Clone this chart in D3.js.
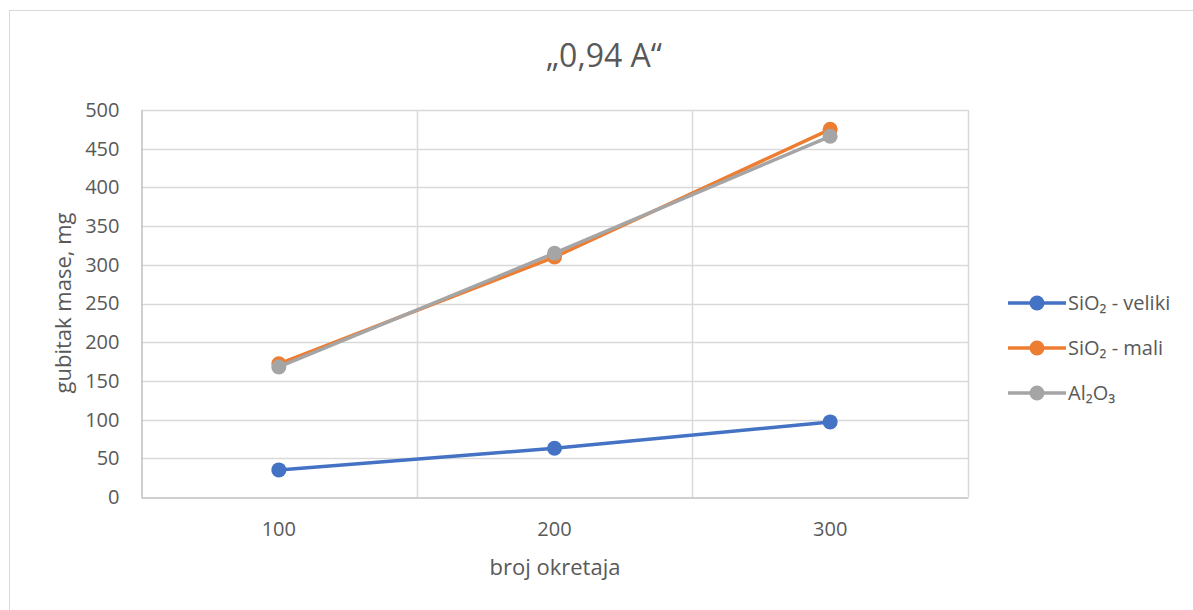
<!doctype html>
<html>
<head>
    <meta charset="utf-8">
    <script src="https://d3js.org/d3.v7.min.js"></script>
    <style>
        body { margin: 0; background: #fff; }
        text { font-family: "Open Sans", "Noto Sans", sans-serif; fill: #595959; }
    </style>
</head>
<body>
    <script>
        var width = 1193;
        var height = 610;

        var categories = ["100", "200", "300"];
        var yTicks = [0, 50, 100, 150, 200, 250, 300, 350, 400, 450, 500];
        var seriesNames = ["SiO\u2082 - veliki", "SiO\u2082 - mali", "Al\u2082O\u2083"];
        var seriesColors = ["#4472c4", "#ed7d31", "#a5a5a5"];
        var sio2Veliki = [35, 63, 97];
        var sio2Mali = [172, 310, 475];
        var al2o3 = [168, 315, 466];

        var series = [
            {name: seriesNames[0], color: seriesColors[0], values: sio2Veliki},
            {name: seriesNames[1], color: seriesColors[1], values: sio2Mali},
            {name: seriesNames[2], color: seriesColors[2], values: al2o3}
        ];

        var plot = {left: 141, right: 968, top: 110, bottom: 497};
        var font = "'Open Sans', sans-serif";

        var svg = d3.select("body")
                    .append("svg")
                    .attr("width", width)
                    .attr("height", height);

        // outer chart border
        svg.append("rect")
           .attr("x", 9.5).attr("y", 10.5)
           .attr("width", 1300).attr("height", 700)
           .attr("fill", "none")
           .attr("stroke", "#d9d9d9");

        var xScale = d3.scaleBand()
                       .domain(categories)
                       .range([plot.left, plot.right]);
        var yScale = d3.scaleLinear()
                       .domain([0, 500])
                       .range([plot.bottom, plot.top]);

        // horizontal gridlines
        svg.append("g").selectAll("line")
           .data(yTicks.slice(1))
           .enter().append("line")
           .attr("x1", plot.left).attr("x2", plot.right)
           .attr("y1", function(d){ return Math.round(yScale(d)) + 0.5; })
           .attr("y2", function(d){ return Math.round(yScale(d)) + 0.5; })
           .attr("stroke", "#d9d9d9").attr("stroke-width", 1.5);

        // vertical gridlines at category boundaries
        svg.append("g").selectAll("line")
           .data(categories.slice(1).concat(["end"]))
           .enter().append("line")
           .attr("x1", function(d, i){ return Math.round(plot.left + xScale.step() * (i + 1)) + 0.5; })
           .attr("x2", function(d, i){ return Math.round(plot.left + xScale.step() * (i + 1)) + 0.5; })
           .attr("y1", plot.top).attr("y2", plot.bottom)
           .attr("stroke", "#d9d9d9").attr("stroke-width", 1.5);

        // y axis
        var yAxis = d3.axisLeft(yScale).tickValues(yTicks).tickSize(0).tickPadding(22);
        var gy = svg.append("g")
                    .attr("transform", "translate(" + (plot.left + 0.5) + ",0)")
                    .call(yAxis);
        gy.select(".domain").attr("stroke", "#bfbfbf").attr("stroke-width", 1.5);
        gy.selectAll("text").style("font-size", "20px").attr("fill", "#595959")
          .style("font-family", font);

        // x axis
        var xAxis = d3.axisBottom(xScale).tickSize(0).tickPadding(24);
        var gx = svg.append("g")
                    .attr("transform", "translate(0," + (plot.bottom + 0.5) + ")")
                    .call(xAxis);
        gx.select(".domain").attr("stroke", "#bfbfbf").attr("stroke-width", 1.5);
        gx.selectAll("text").style("font-size", "20px").attr("fill", "#595959")
          .style("font-family", font);

        // axis titles
        svg.append("text")
           .attr("x", 555)
           .attr("y", 575)
           .attr("text-anchor", "middle")
           .style("font-size", "22px")
           .text("broj okretaja");

        svg.append("text")
           .attr("transform", "translate(71,303) rotate(-90)")
           .attr("text-anchor", "middle")
           .style("font-size", "22px")
           .text("gubitak mase, mg");

        // title
        svg.append("text")
           .attr("x", 604)
           .attr("y", 67)
           .attr("text-anchor", "middle")
           .style("font-size", "32px")
           .text("\u201E0,94 A\u201C");

        // lines and markers
        var line = d3.line()
                     .x(function(d, i){ return xScale(categories[i]) + xScale.bandwidth() / 2; })
                     .y(function(d){ return yScale(d); });

        var groups = svg.selectAll(".series")
                        .data(series)
                        .enter().append("g")
                        .attr("class", "series");

        groups.append("path")
              .attr("d", function(d){ return line(d.values); })
              .attr("fill", "none")
              .attr("stroke", function(d){ return d.color; })
              .attr("stroke-width", 3.5)
              .attr("stroke-linejoin", "round");

        groups.selectAll("circle")
              .data(function(d){ return d.values.map(function(v){ return {v: v, color: d.color}; }); })
              .enter().append("circle")
              .attr("cx", function(d, i){ return xScale(categories[i]) + xScale.bandwidth() / 2; })
              .attr("cy", function(d){ return yScale(d.v); })
              .attr("r", 7.5)
              .attr("fill", function(d){ return d.color; });

        // legend
        var legend = svg.selectAll(".legend")
                        .data(series)
                        .enter().append("g")
                        .attr("class", "legend")
                        .attr("transform", function(d, i){ return "translate(1008," + (303 + i * 45) + ")"; });

        legend.append("line")
              .attr("x1", 0).attr("x2", 58)
              .attr("stroke", function(d){ return d.color; })
              .attr("stroke-width", 3.5);
        legend.append("circle")
              .attr("cx", 29).attr("r", 7.5)
              .attr("fill", function(d){ return d.color; });
        legend.append("text")
              .attr("x", 60).attr("y", 7)
              .style("font-size", "20px")
              .text(function(d){ return d.name; });
    </script>
</body>
</html>
